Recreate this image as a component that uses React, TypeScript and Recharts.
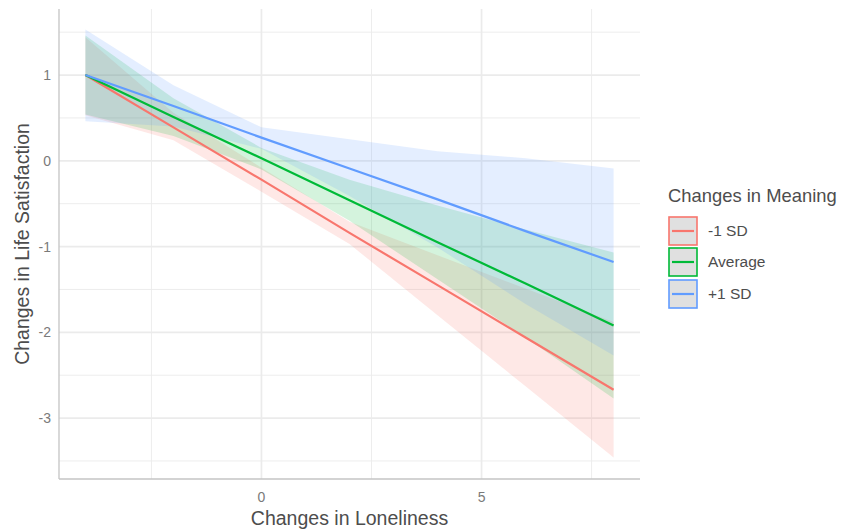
import {
	Area,
	CartesianGrid,
	ComposedChart,
	Line,
	XAxis,
	YAxis,
} from "recharts";

// loneliness change values where the model was evaluated
const loneliness = [-4, -2, 0, 2, 4, 6, 8];

// fitted life satisfaction per meaning level
const fitLow = [1.0, 0.39, -0.22, -0.84, -1.45, -2.06, -2.67];
const fitAvg = [1.0, 0.51, 0.03, -0.46, -0.95, -1.43, -1.92];
const fitHigh = [1.0, 0.64, 0.27, -0.09, -0.45, -0.82, -1.18];

// confidence band limits
const lowerLow = [0.53, 0.24, -0.36, -0.97, -1.8, -2.63, -3.46];
const upperLow = [1.44, 0.56, -0.08, -0.71, -1.1, -1.49, -1.88];
const lowerAvg = [0.54, 0.29, -0.1, -0.7, -1.38, -2.06, -2.77];
const upperAvg = [1.46, 0.73, 0.15, -0.22, -0.52, -0.8, -1.07];
const lowerHigh = [0.46, 0.4, 0.14, -0.41, -1.01, -1.67, -2.27];
const upperHigh = [1.53, 0.88, 0.39, 0.25, 0.11, 0.03, -0.09];

const xTicks = [0, 5];
const xMinor = [-2.5, 2.5, 7.5];
const yTicks = [-3, -2, -1, 0, 1];
const yMinor = [-3.5, -2.5, -1.5, -0.5, 0.5, 1.5];

const series = [
	{ key: "low", label: "-1 SD", color: "#F8766D" },
	{ key: "avg", label: "Average", color: "#00BA38" },
	{ key: "high", label: "+1 SD", color: "#619CFF" },
];

const data = loneliness.map((x, i) => ({
	x,
	low: fitLow[i],
	avg: fitAvg[i],
	high: fitHigh[i],
	lowBand: [lowerLow[i], upperLow[i]],
	avgBand: [lowerAvg[i], upperAvg[i]],
	highBand: [lowerHigh[i], upperHigh[i]],
}));

const font = "'Liberation Sans', Arial, sans-serif";
const gridColor = "#ebebeb";

function YTitle({ viewBox }: any) {
	const cx = 14;
	const cy = viewBox.y + viewBox.height / 2;
	return (
		<text
			x={cx}
			y={cy}
			transform={`rotate(-90, ${cx}, ${cy})`}
			textAnchor="middle"
			dominantBaseline="central"
			fontSize={19.5}
			fill="#4d4d4d"
			fontFamily={font}
		>
			Changes in Life Satisfaction
		</text>
	);
}

function MeaningLegend() {
	return (
		<div
			style={{
				position: "absolute",
				left: 660,
				top: 177,
				fontFamily: font,
				color: "#4d4d4d",
				whiteSpace: "nowrap",
			}}
		>
			<div style={{ fontSize: 18.4, lineHeight: "22px", marginBottom: 8 }}>
				Changes in Meaning
			</div>
			{series.map((s) => (
				<div
					key={s.key}
					style={{ display: "flex", alignItems: "center", height: 31.5 }}
				>
					<svg width={30} height={30}>
						<rect
							x={1}
							y={1}
							width={28}
							height={28}
							fill="#e0e0e0"
							stroke={s.color}
							strokeWidth={1.6}
						/>
						<line
							x1={4}
							x2={26}
							y1={15}
							y2={15}
							stroke={s.color}
							strokeWidth={2.2}
						/>
					</svg>
					<span style={{ fontSize: 15.5, marginLeft: 10 }}>{s.label}</span>
				</div>
			))}
		</div>
	);
}

export default function App() {
	return (
		<div style={{ position: "relative", width: 844, height: 524 }}>
			<ComposedChart
				width={844}
				height={524}
				data={data}
				margin={{ top: 1, right: 212, bottom: 8, left: 0 }}
			>
				<CartesianGrid
					horizontalValues={yMinor}
					verticalValues={xMinor}
					stroke={gridColor}
					strokeWidth={0.9}
				/>
				<CartesianGrid
					horizontalValues={yTicks}
					verticalValues={xTicks}
					stroke={gridColor}
					strokeWidth={1.7}
				/>
				<XAxis
					dataKey="x"
					type="number"
					domain={[-4.6, 8.6]}
					ticks={xTicks}
					height={45}
					axisLine={{ stroke: "#c4c4c4", strokeWidth: 1.3 }}
					tickLine={false}
					tickMargin={7}
					tick={{ fill: "#7a7a7a", fontSize: 14, fontFamily: font }}
					label={{
						value: "Changes in Loneliness",
						position: "insideBottom",
						offset: -1,
						fontSize: 19.5,
						fill: "#4d4d4d",
						fontFamily: font,
					}}
				/>
				<YAxis
					type="number"
					domain={[-3.71, 1.77]}
					ticks={yTicks}
					width={51}
					axisLine={{ stroke: "#c4c4c4", strokeWidth: 1.3 }}
					tickLine={false}
					tick={{ fill: "#7a7a7a", fontSize: 14, fontFamily: font }}
					label={<YTitle />}
				/>
				{series.map((s) => (
					<Area
						key={`${s.key}Band`}
						dataKey={`${s.key}Band`}
						type="linear"
						stroke="none"
						fill={s.color}
						fillOpacity={0.17}
						isAnimationActive={false}
						activeDot={false}
					/>
				))}
				{series.map((s) => (
					<Line
						key={s.key}
						dataKey={s.key}
						type="linear"
						stroke={s.color}
						strokeWidth={2.2}
						dot={false}
						activeDot={false}
						isAnimationActive={false}
					/>
				))}
			</ComposedChart>
			<MeaningLegend />
		</div>
	);
}
